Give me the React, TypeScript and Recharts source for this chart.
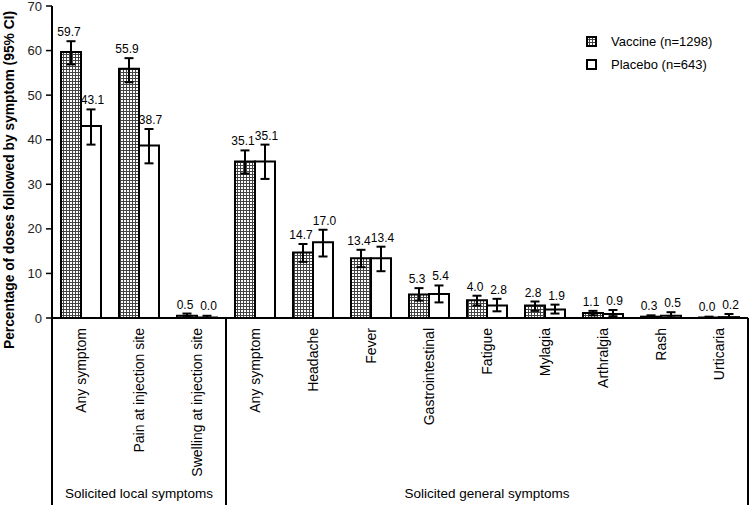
import React from "react";
import { ComposedChart, Bar, XAxis, YAxis, ErrorBar, LabelList } from "recharts";

const categories = [
  "Any symptom",
  "Pain at injection site",
  "Swelling at injection site",
  "Any symptom",
  "Headache",
  "Fever",
  "Gastrointestinal",
  "Fatigue",
  "Mylagia",
  "Arthralgia",
  "Rash",
  "Urticaria",
];
const vaccine = [59.7, 55.9, 0.5, 35.1, 14.7, 13.4, 5.3, 4.0, 2.8, 1.1, 0.3, 0.0];
const placebo = [43.1, 38.7, 0.0, 35.1, 17.0, 13.4, 5.4, 2.8, 1.9, 0.9, 0.5, 0.2];
const vaccineLow = [56.9, 52.9, 0.2, 32.4, 12.6, 11.4, 3.9, 2.8, 1.6, 0.6, 0.1, 0.0];
const vaccineHigh = [62.1, 58.3, 1.0, 37.6, 16.6, 15.3, 6.7, 5.0, 3.7, 1.6, 0.6, 0.3];
const placeboLow = [38.9, 34.7, 0.0, 31.2, 13.8, 10.5, 3.5, 1.5, 1.0, 0.4, 0.1, 0.0];
const placeboHigh = [46.8, 42.4, 0.5, 38.9, 19.8, 16.0, 7.3, 4.3, 3.0, 1.8, 1.3, 0.9];
const yTicks = [0, 10, 20, 30, 40, 50, 60, 70];
const groups = [
  { label: "Solicited local symptoms", start: 0, count: 3 },
  { label: "Solicited general symptoms", start: 3, count: 9 },
];

const W = 751;
const H = 505;
const MARGIN = { top: 6, right: 3, left: 0, bottom: 0 };
const Y_W = 52;
const X_H = 187;
const PLOT_W = W - MARGIN.left - MARGIN.right - Y_W;
const PLOT_H = H - MARGIN.top - MARGIN.bottom - X_H;
const BAND = PLOT_W / categories.length;
const PX = PLOT_H / 70;
const FONT = "'Liberation Sans', Arial, sans-serif";

const data = categories.map((name, i) => ({
  name,
  idx: i,
  vaccine: vaccine[i],
  placebo: placebo[i],
  vErr: [vaccine[i] - vaccineLow[i], vaccineHigh[i] - vaccine[i]],
  pErr: [placebo[i] - placeboLow[i], placeboHigh[i] - placebo[i]],
}));

const makeLabel = (vals: number[], highs: number[], dx: number) => (props: any) => {
  const { x, y, width, value } = props;
  const i = Number(value);
  if (!Number.isFinite(i) || vals[i] === undefined) return null;
  const barTop = Number(y);
  const up = (highs[i] - vals[i]) * PX;
  return (
    <text
      x={Number(x) + Number(width) / 2 + dx}
      y={barTop - up - 5}
      textAnchor="middle"
      fontSize={12}
      fontFamily={FONT}
      fill="#000"
    >
      {vals[i].toFixed(1)}
    </text>
  );
};

const CategoryTick = (props: any) => {
  const { x, y, payload, index } = props;
  const extra: React.ReactNode[] = [];
  groups.forEach((g, gi) => {
    if (g.start === index) {
      extra.push(
        <line key={"l" + gi} x1={x - BAND / 2} x2={x - BAND / 2} y1={y} y2={y + X_H} stroke="#000" strokeWidth={2} />
      );
      const cx = x - BAND / 2 + (g.count * BAND) / 2;
      extra.push(
        <text key={"g" + gi} x={cx} y={y + 180} textAnchor="middle" fontSize={13.5} fontFamily={FONT} fill="#000">
          {g.label}
        </text>
      );
    }
  });
  if (index === categories.length - 1) {
    extra.push(
      <line key="r" x1={x + BAND / 2} x2={x + BAND / 2} y1={y} y2={y + X_H} stroke="#000" strokeWidth={2} />
    );
  }
  return (
    <g>
      <text
        x={x}
        y={y + 10}
        dy="0.35em"
        transform={`rotate(-90, ${x}, ${y + 10})`}
        textAnchor="end"
        fontSize={14}
        fontFamily={FONT}
        fill="#000"
      >
        {payload.value}
      </text>
      {extra}
    </g>
  );
};

const YLabel = () => (
  <text
    x={9}
    y={180}
    transform="rotate(-90, 9, 180)"
    textAnchor="middle"
    dy="0.35em"
    fontSize={13.8}
    fontWeight="bold"
    fontFamily={FONT}
    fill="#000"
  >
    Percentage of doses followed by symptom (95% CI)
  </text>
);

const GridPattern = ({ id }: { id: string }) => (
  <pattern id={id} width={3} height={3} patternUnits="userSpaceOnUse">
    <rect x={0} y={0} width={3} height={3} fill="#fff" />
    <rect x={0} y={0} width={3} height={1} fill="#444" />
    <rect x={0} y={0} width={1} height={3} fill="#444" />
  </pattern>
);

const minSize = (value: any) => (Number(value) === 0 ? 0.5 : 0);

export default function App() {
  return (
    <div style={{ position: "absolute", left: 0, top: 0, width: W, height: H, background: "#fff" }}>
      <ComposedChart width={W} height={H} data={data} margin={MARGIN} barGap={0} barSize={20}>
        <defs>
          <GridPattern id="vacGrid" />
        </defs>
        <XAxis
          dataKey="name"
          height={X_H}
          interval={0}
          tickLine={false}
          tickSize={0}
          tickMargin={0}
          axisLine={{ stroke: "#000", strokeWidth: 2 }}
          tick={<CategoryTick />}
        />
        <YAxis
          width={Y_W}
          domain={[0, 70]}
          ticks={yTicks}
          interval={0}
          tickSize={6}
          tickMargin={4}
          axisLine={{ stroke: "#000", strokeWidth: 2 }}
          tickLine={{ stroke: "#000", strokeWidth: 1.5 }}
          tick={{ fontSize: 13, fill: "#222", fontFamily: FONT }}
          label={<YLabel />}
        />
        <Bar
          dataKey="vaccine"
          fill="url(#vacGrid)"
          stroke="#000"
          strokeWidth={2}
          minPointSize={minSize}
          isAnimationActive={false}
        >
          <ErrorBar dataKey="vErr" width={4.5} strokeWidth={2} stroke="#000" />
          <LabelList dataKey="idx" content={makeLabel(vaccine, vaccineHigh, -2)} />
        </Bar>
        <Bar
          dataKey="placebo"
          fill="#fff"
          stroke="#000"
          strokeWidth={2}
          minPointSize={minSize}
          isAnimationActive={false}
        >
          <ErrorBar dataKey="pErr" width={4.5} strokeWidth={2} stroke="#000" />
          <LabelList dataKey="idx" content={makeLabel(placebo, placeboHigh, 1.5)} />
        </Bar>
      </ComposedChart>
      <div
        style={{
          position: "absolute",
          left: 586,
          top: 30,
          fontFamily: FONT,
          fontSize: 13,
          color: "#000",
          lineHeight: "23px",
        }}
      >
        <div style={{ display: "flex", alignItems: "center" }}>
          <svg width={11} height={11} style={{ marginRight: 14 }}>
            <defs>
              <GridPattern id="vacGridLegend" />
            </defs>
            <rect x={1} y={1} width={9} height={9} fill="url(#vacGridLegend)" stroke="#000" strokeWidth={2} />
          </svg>
          <span>Vaccine (n=1298)</span>
        </div>
        <div style={{ display: "flex", alignItems: "center" }}>
          <svg width={11} height={11} style={{ marginRight: 14 }}>
            <rect x={1} y={1} width={9} height={9} fill="#fff" stroke="#000" strokeWidth={2} />
          </svg>
          <span>Placebo (n=643)</span>
        </div>
      </div>
    </div>
  );
}
